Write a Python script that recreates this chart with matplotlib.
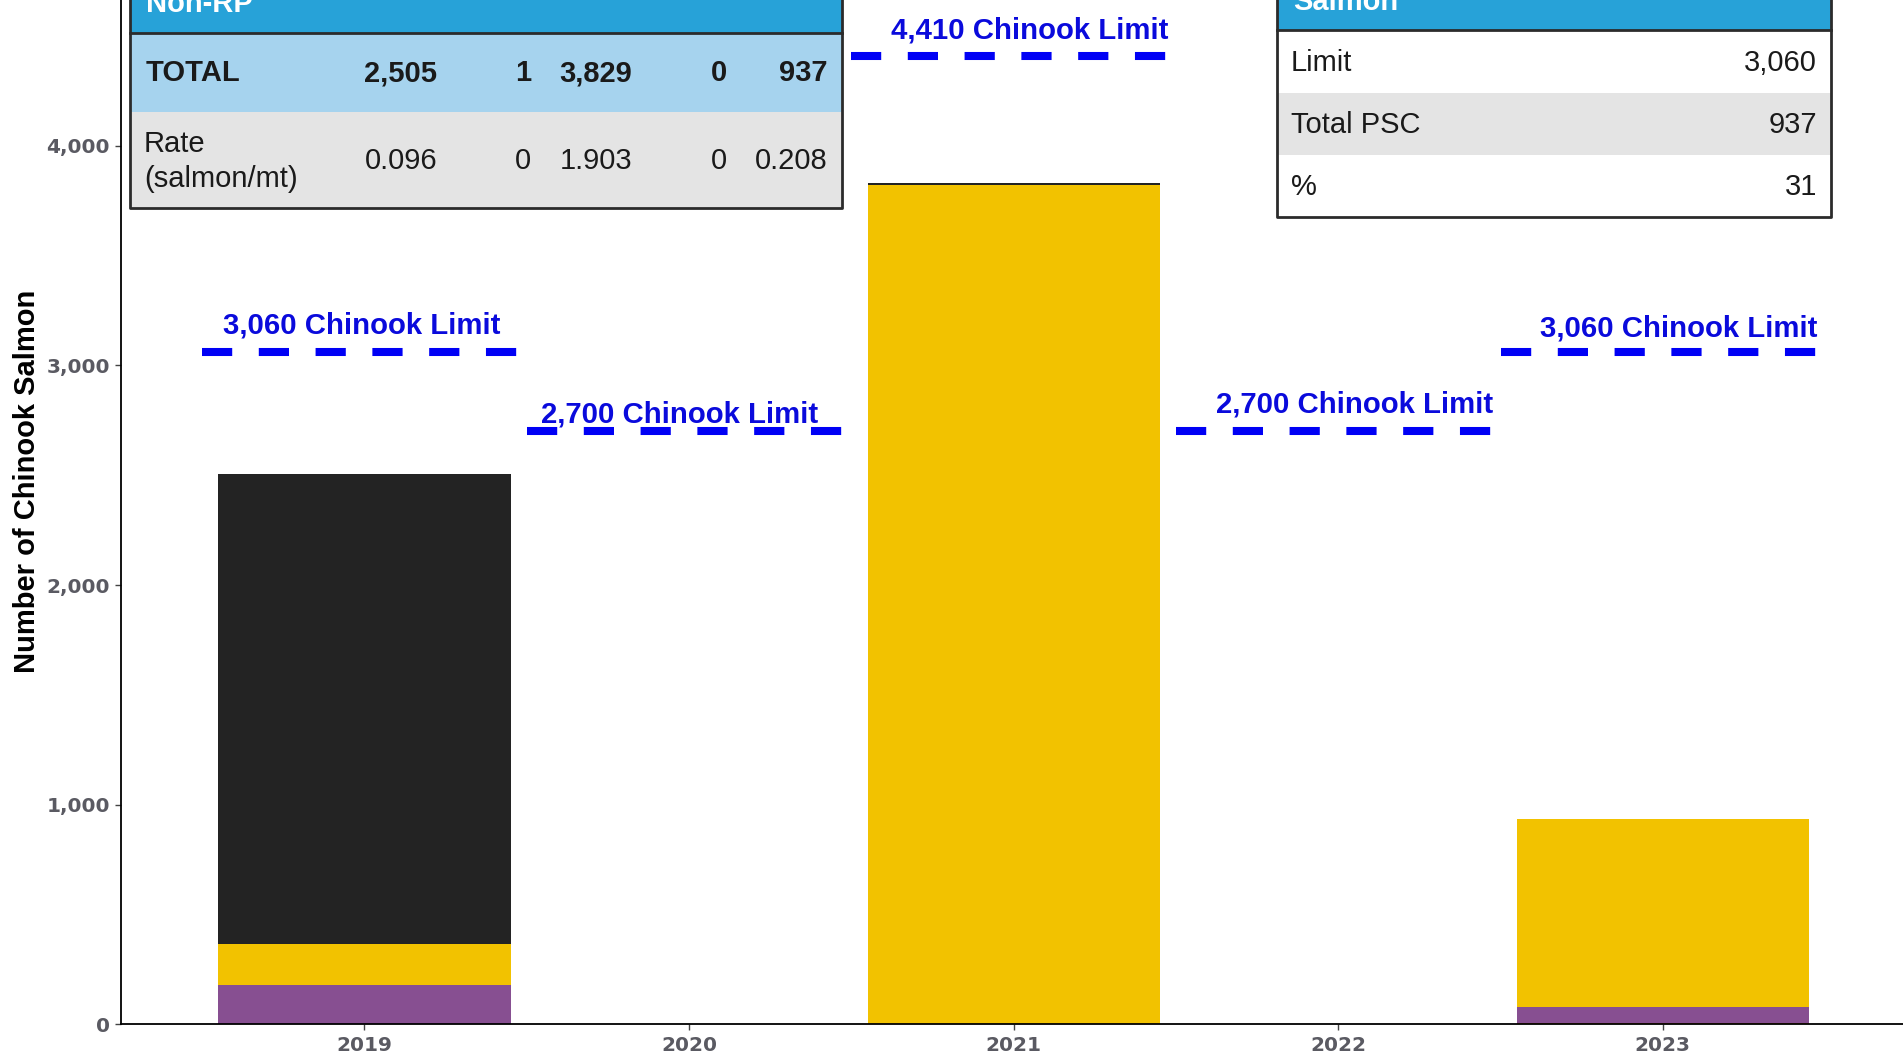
import matplotlib
matplotlib.use("Agg")
import matplotlib.pyplot as plt
from matplotlib.patches import Rectangle
from matplotlib.ticker import FuncFormatter

# Chinook salmon PSC by year, stacked by sector
years = ["2019", "2020", "2021", "2022", "2023"]
purple = [180, 0, 0, 0, 70]
orange = [0, 0, 0, 0, 8]
yellow = [185, 0, 3821, 0, 859]
black = [2140, 1, 8, 0, 0]

limits = [3060, 2700, 4410, 2700, 3060]

# summary tables
totals = [2505, 1, 3829, 0, 937]
rates = [0.096, 0, 1.903, 0, 0.208]
limit_2023 = 3060
total_psc_2023 = 937

# label placement (x shift in categories, y lift in points)
label_dx = [-0.01, -0.03, 0.05, 0.05, 0.05]
label_dy = [19, 12, 18, 19, 17]

C_PURPLE = "#874F91"
C_ORANGE = "#D2711E"
C_YELLOW = "#F2C200"
C_BLACK = "#232323"
C_LIMIT = "#0000F5"
C_LABEL = "#0A0ADC"

fig = plt.figure(figsize=(19.03, 10.60), dpi=100)
ax = fig.add_axes([121 / 1903, 35.6 / 1060, 1 - 121 / 1903, 1024.4 / 1060])

x = list(range(len(years)))
w = 0.9
bottom = [0] * len(years)
for vals, col in [(orange, C_ORANGE), (purple, C_PURPLE), (yellow, C_YELLOW), (black, C_BLACK)]:
    ax.bar(x, vals, width=w, bottom=bottom, color=col, linewidth=0, zorder=2)
    bottom = [b + v for b, v in zip(bottom, vals)]

for i, lim in enumerate(limits):
    ax.plot([i - 0.5, i + 0.5], [lim, lim], color=C_LIMIT, lw=5.8,
            dashes=(3.75, 3.3), solid_capstyle="butt", zorder=3)
    ax.annotate(f"{lim:,} Chinook Limit", xy=(i + label_dx[i], lim),
                xytext=(0, label_dy[i]), textcoords="offset points",
                ha="center", va="center", color=C_LABEL, fontsize=21.2,
                fontweight="bold", family="Liberation Sans", zorder=4)

ax.set_xlim(-0.75, 4.74)
ax.set_ylim(0, 4663)
ax.set_xticks(x)
ax.set_xticklabels(years)
ax.set_yticks([0, 1000, 2000, 3000, 4000])
ax.yaxis.set_major_formatter(FuncFormatter(lambda v, p: f"{int(v):,}"))
for lab in ax.get_xticklabels() + ax.get_yticklabels():
    lab.set_fontweight("bold")
    lab.set_fontsize(14.5)
    lab.set_color("#5A5A62")
    lab.set_family("DejaVu Sans")
ax.tick_params(axis="both", length=4, width=1, color="#444444", pad=4)
ax.spines["top"].set_visible(False)
ax.spines["right"].set_visible(False)
ax.spines["left"].set_linewidth(1.3)
ax.spines["bottom"].set_linewidth(1.3)
ax.set_ylabel("Number of Chinook Salmon", fontsize=21, fontweight="bold",
              family="Liberation Sans")
ax.yaxis.set_label_coords(-(121 - 41) / 1782, 0.53)

# overlay in pixel units for the two tables
ov = fig.add_axes([0, 0, 1, 1], zorder=5)
ov.set_xlim(0, 1903)
ov.set_ylim(1060, 0)
ov.axis("off")
ov.patch.set_alpha(0)

TXT = "#1A1A1A"
FONT = "Liberation Sans"
FS = 21

# left table
lx0, lx1 = 130, 842
ov.add_patch(Rectangle((lx0, -20), lx1 - lx0, 53, facecolor="#27A2D8", edgecolor="none"))
ov.add_patch(Rectangle((lx0, 33), lx1 - lx0, 79, facecolor="#A6D3EE", edgecolor="none"))
ov.add_patch(Rectangle((lx0, 112), lx1 - lx0, 96, facecolor="#E4E4E4", edgecolor="none"))
ov.plot([lx0, lx0, lx1, lx1], [-5, 208, 208, -5], color="#2B2B2B", lw=2)
ov.plot([lx0, lx1], [33, 33], color="#2B2B2B", lw=2)
ov.text(146, 4, "Non-RP", color="white", fontsize=FS, fontweight="bold",
        family=FONT, va="center")
ov.text(146, 73, "TOTAL", color=TXT, fontsize=FS, fontweight="bold", family=FONT, va="center")
ov.text(144, 144, "Rate", color=TXT, fontsize=FS, family=FONT, va="center")
ov.text(144, 179, "(salmon/mt)", color=TXT, fontsize=FS, family=FONT, va="center")
col_right = [437, 531, 632, 727, 828]
for cx, t, r in zip(col_right, totals, rates):
    ov.text(cx, 73, f"{t:,}", color=TXT, fontsize=FS, fontweight="bold",
            family=FONT, ha="right", va="center")
    ov.text(cx, 161, f"{r:.3f}" if r else "0", color=TXT, fontsize=FS,
            family=FONT, ha="right", va="center")

# right table
rx0, rx1 = 1277, 1831
ov.add_patch(Rectangle((rx0, -20), rx1 - rx0, 50, facecolor="#27A2D8", edgecolor="none"))
ov.add_patch(Rectangle((rx0, 30), rx1 - rx0, 63, facecolor="white", edgecolor="none"))
ov.add_patch(Rectangle((rx0, 93), rx1 - rx0, 62, facecolor="#E4E4E4", edgecolor="none"))
ov.add_patch(Rectangle((rx0, 155), rx1 - rx0, 62, facecolor="white", edgecolor="none"))
ov.plot([rx0, rx0, rx1, rx1], [-5, 217, 217, -5], color="#2B2B2B", lw=2)
ov.plot([rx0, rx1], [30, 30], color="#2B2B2B", lw=2)
ov.text(1293, 2, "Salmon", color="white", fontsize=FS, fontweight="bold",
        family=FONT, va="center")
pct = round(total_psc_2023 / limit_2023 * 100)
rows = [("Limit", f"{limit_2023:,}", 63), ("Total PSC", f"{total_psc_2023:,}", 125),
        ("%", f"{pct}", 187)]
for name, val, cy in rows:
    ov.text(1291, cy, name, color=TXT, fontsize=FS, family=FONT, va="center")
    ov.text(1817, cy, val, color=TXT, fontsize=FS, family=FONT, ha="right", va="center")

fig.savefig("out.png", dpi=100)
